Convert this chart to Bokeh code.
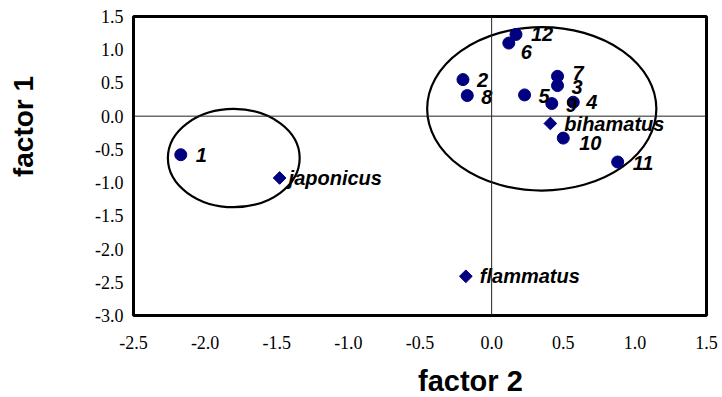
import math
from bokeh.plotting import figure
from bokeh.layouts import row, column
from bokeh.models import Range1d, Span, FixedTicker, ColumnDataSource
from bokeh.core.properties import value
from bokeh.embed import file_html
from bokeh.resources import INLINE

# ---- data ----
sample_names = ["1", "2", "3", "4", "5", "6", "7", "8", "9", "10", "11", "12"]
sample_f2 = [-2.17, -0.20, 0.46, 0.57, 0.23, 0.12, 0.46, -0.17, 0.42, 0.50, 0.88, 0.17]
sample_f1 = [-0.58, 0.55, 0.46, 0.21, 0.32, 1.10, 0.60, 0.31, 0.19, -0.33, -0.69, 1.23]

species_names = ["japonicus", "flammatus", "bihamatus"]
species_f2 = [-1.48, -0.18, 0.41]
species_f1 = [-0.93, -2.41, -0.11]

cluster_f2 = [-1.80, 0.35]
cluster_f1 = [-0.63, 0.11]
cluster_w = [0.92, 1.60]
cluster_h = [1.48, 2.46]

x_ticks = [-2.5, -2.0, -1.5, -1.0, -0.5, 0.0, 0.5, 1.0, 1.5]
x_tick_labels = ["-2.5", "-2.0", "-1.5", "-1.0", "-0.5", "0.0", "0.5", "1.0", "1.5"]
y_ticks = [-3.0, -2.5, -2.0, -1.5, -1.0, -0.5, 0.0, 0.5, 1.0, 1.5]
y_tick_labels = ["-3.0", "-2.5", "-2.0", "-1.5", "-1.0", "-0.5", "0.0", "0.5", "1.0", "1.5"]

x_title = ["factor 2"]
y_title = ["factor 1"]

# label offsets (styling, pixels)
sample_dx = [15, 14, 14, 13, 14, 12, 15, 14, 14, 16, 15, 15]
sample_dy = [0, 0, 1, 0, 1, 9, -3, 1, 1, 5, 1, 0]
species_dx = [9, 14, 14]
species_dy = [0, 0, 1]

NAVY = "#000080"
TOTAL_W, TOTAL_H = 722, 397
TITLE_W = 40                  # left strip holding the y title
MAIN_W = TOTAL_W - TITLE_W
MAIN_H = 356
BOTTOM_H = TOTAL_H - MAIN_H   # bottom strip holding the x title
FRAME_L, FRAME_R, FRAME_T, FRAME_B = 133, 706, 16, 315   # frame edges in page px

# ---- main plot ----
p = figure(width=MAIN_W, height=MAIN_H, output_backend="svg", toolbar_location=None,
           x_range=Range1d(-2.5, 1.5), y_range=Range1d(-3.0, 1.5),
           min_border_left=FRAME_L - TITLE_W, min_border_right=TOTAL_W - FRAME_R,
           min_border_top=FRAME_T, min_border_bottom=MAIN_H - FRAME_B)
p.title.visible = False
p.grid.visible = False
p.outline_line_color = "black"
p.outline_line_width = 3
p.background_fill_color = "white"
p.border_fill_color = "white"

for ax, ticks, labels, standoff in ((p.xaxis, x_ticks, x_tick_labels, 20),
                                     (p.yaxis, y_ticks, y_tick_labels, 10)):
    ax.ticker = FixedTicker(ticks=ticks)
    ax.major_label_overrides = {t: l for t, l in zip(ticks, labels)}
    ax.axis_line_color = None
    ax.major_tick_line_color = None
    ax.minor_tick_line_color = None
    ax.major_tick_out = 0
    ax.major_tick_in = 0
    ax.major_label_standoff = standoff
    ax.major_label_text_font = "Liberation Serif"
    ax.major_label_text_font_size = "18px"
    ax.major_label_text_color = "black"

p.add_layout(Span(location=0, dimension="height", line_color="#222222", line_width=1))
p.add_layout(Span(location=0, dimension="width", line_color="#222222", line_width=1))

p.ellipse(x=cluster_f2, y=cluster_f1, width=cluster_w, height=cluster_h,
          fill_color=None, line_color="black", line_width=2.2)

s_src = ColumnDataSource(dict(x=sample_f2, y=sample_f1, t=sample_names,
                              dx=sample_dx, dy=sample_dy))
sp_src = ColumnDataSource(dict(x=species_f2, y=species_f1, t=species_names,
                               dx=species_dx, dy=species_dy))

p.scatter(x="x", y="y", source=s_src, marker="circle", size=12,
          fill_color=NAVY, line_color=NAVY)
p.scatter(x="x", y="y", source=sp_src, marker="square", size=9, angle=math.pi / 4,
          fill_color=NAVY, line_color=NAVY)

for src in (s_src, sp_src):
    p.text(x="x", y="y", text="t", source=src, x_offset="dx", y_offset="dy",
           text_font=value("Liberation Sans"), text_font_style="bold italic",
           text_font_size="20px", text_color="black",
           text_align="left", text_baseline="middle")


def strip(w, h):
    f = figure(width=w, height=h, output_backend="svg", toolbar_location=None,
               x_range=Range1d(0, w), y_range=Range1d(0, h),
               x_axis_location=None, y_axis_location=None,
               min_border=0, min_border_left=0, min_border_right=0,
               min_border_top=0, min_border_bottom=0)
    f.title.visible = False
    f.grid.visible = False
    f.outline_line_color = None
    f.background_fill_color = "white"
    f.border_fill_color = "white"
    return f


# ---- axis title strips ----
pl = strip(TITLE_W, TOTAL_H)
pl.text(x=[23], y=[TOTAL_H - 126], text=y_title, angle=math.pi / 2,
        text_font=value("Liberation Sans"), text_font_style="bold",
        text_font_size="28px", text_color="black",
        text_align="center", text_baseline="middle")

pb = strip(MAIN_W, BOTTOM_H)
pb.text(x=[401], y=[TOTAL_H - 380.5], text=x_title,
        text_font=value("Liberation Sans"), text_font_style="bold",
        text_font_size="29px", text_color="black",
        text_align="center", text_baseline="middle")

layout = row(pl, column(p, pb))
open("out.html", "w").write(file_html(layout, INLINE))
